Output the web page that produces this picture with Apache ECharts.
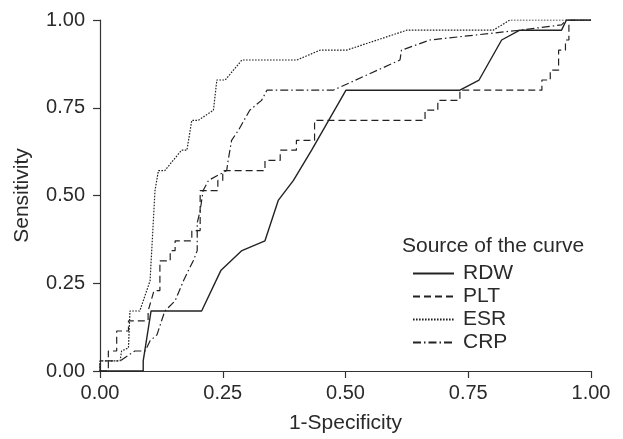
<!DOCTYPE html>
<html>
<head>
<meta charset="utf-8">
<script src="https://cdn.jsdelivr.net/npm/echarts@6/dist/echarts.min.js"></script>
<style>html,body{margin:0;padding:0;background:#fff;}#c{width:623px;height:439px;}</style>
</head>
<body>
<div id="c"></div>
<script>
// 1-Specificity / Sensitivity pairs
var rdwX = [0, 0.088, 0.088, 0.104, 0.207, 0.246, 0.289, 0.336, 0.363, 0.394, 0.431, 0.501, 0.733, 0.772, 0.818, 0.855, 0.940, 0.950, 1];
var rdwY = [0, 0, 0.029, 0.171, 0.171, 0.286, 0.343, 0.371, 0.486, 0.543, 0.629, 0.8, 0.8, 0.829, 0.943, 0.971, 0.971, 1, 1];

var pltX = [0, 0.017, 0.017, 0.034, 0.034, 0.058, 0.058, 0.098, 0.098, 0.11, 0.122, 0.122, 0.143, 0.143, 0.153, 0.153, 0.187, 0.187, 0.204, 0.204, 0.240, 0.240, 0.25, 0.25, 0.336, 0.336, 0.367, 0.367, 0.400, 0.400, 0.437, 0.437, 0.662, 0.662, 0.688, 0.688, 0.733, 0.733, 0.900, 0.900, 0.917, 0.917, 0.934, 0.934, 0.948, 0.948, 0.955, 0.955, 1];
var pltY = [0, 0, 0.057, 0.057, 0.114, 0.114, 0.143, 0.143, 0.171, 0.229, 0.229, 0.314, 0.314, 0.343, 0.343, 0.371, 0.371, 0.400, 0.400, 0.514, 0.514, 0.543, 0.543, 0.571, 0.571, 0.600, 0.600, 0.629, 0.629, 0.657, 0.657, 0.714, 0.714, 0.743, 0.743, 0.771, 0.771, 0.800, 0.800, 0.829, 0.829, 0.857, 0.857, 0.914, 0.914, 0.943, 0.943, 1, 1];

var esrX = [0, 0, 0.041, 0.044, 0.058, 0.061, 0.081, 0.102, 0.112, 0.119, 0.132, 0.166, 0.177, 0.187, 0.200, 0.231, 0.238, 0.255, 0.289, 0.401, 0.448, 0.502, 0.625, 0.801, 0.835, 1];
var esrY = [0, 0.029, 0.029, 0.057, 0.066, 0.171, 0.171, 0.257, 0.514, 0.571, 0.571, 0.629, 0.629, 0.714, 0.714, 0.743, 0.829, 0.829, 0.886, 0.886, 0.914, 0.914, 0.971, 0.971, 1, 1];

var crpX = [0, 0, 0.041, 0.071, 0.092, 0.102, 0.116, 0.132, 0.153, 0.170, 0.180, 0.190, 0.198, 0.198, 0.204, 0.210, 0.221, 0.258, 0.261, 0.268, 0.282, 0.305, 0.329, 0.340, 0.475, 0.611, 0.614, 0.672, 0.855, 0.940, 0.950, 1];
var crpY = [0, 0.029, 0.029, 0.057, 0.057, 0.086, 0.103, 0.171, 0.200, 0.257, 0.286, 0.314, 0.343, 0.422, 0.457, 0.514, 0.543, 0.571, 0.600, 0.657, 0.686, 0.743, 0.771, 0.8, 0.8, 0.886, 0.914, 0.943, 0.971, 0.986, 1, 1];

var seriesNames = ['RDW', 'PLT', 'ESR', 'CRP'];
var xTicks = ['0.00', '0.25', '0.50', '0.75', '1.00'];
var legendTitle = 'Source of the curve';

function pairs(xs, ys) { return xs.map(function (x, i) { return [x, ys[i]]; }); }

var FONT = '"Liberation Sans", Arial, Helvetica, sans-serif';
var TXT = '#2a2a2a';

var chart = echarts.init(document.getElementById('c'), null, {renderer: 'canvas'});
var styles = [
  {type: 'solid', width: 1.4},
  {type: [7, 4], width: 1.2},
  {type: [1.6, 1.4], width: 1.2},
  {type: [8, 3, 1.5, 3], width: 1.2}
];
var datas = [pairs(rdwX, rdwY), pairs(pltX, pltY), pairs(esrX, esrY), pairs(crpX, crpY)];

chart.setOption({
  animation: false,
  backgroundColor: '#fff',
  title: {
    text: legendTitle, left: 397, top: 231,
    textStyle: {fontFamily: FONT, fontSize: 21, fontWeight: 'normal', color: TXT}
  },
  legend: {
    orient: 'vertical', left: 407, top: 258,
    itemWidth: 41, itemHeight: 14, itemGap: 2,
    data: seriesNames,
    itemStyle: {color: 'transparent', borderWidth: 0, opacity: 0},
    textStyle: {fontFamily: FONT, fontSize: 21, color: TXT, lineHeight: 21, padding: [0, 0, 0, 4]}
  },
  grid: {left: 100, right: 32, top: 20, bottom: 68, containLabel: false},
  xAxis: {
    type: 'value', min: 0, max: 1, interval: 0.25,
    name: '1-Specificity', nameLocation: 'middle', nameGap: 42,
    nameTextStyle: {fontFamily: FONT, fontSize: 21, color: TXT},
    axisLine: {show: true, lineStyle: {color: '#333', width: 1.2}},
    axisTick: {show: true, length: 7, lineStyle: {color: '#333', width: 1.2}},
    axisLabel: {fontFamily: FONT, fontSize: 20, color: TXT, margin: 12,
      formatter: function (v) { return xTicks[Math.round(v / 0.25)]; }},
    splitLine: {show: false}
  },
  yAxis: {
    type: 'value', min: 0, max: 1, interval: 0.25,
    name: 'Sensitivity', nameLocation: 'middle', nameGap: 67, nameRotate: 90,
    nameTextStyle: {fontFamily: FONT, fontSize: 21, color: TXT},
    axisLine: {show: true, lineStyle: {color: '#333', width: 1.2}},
    axisTick: {show: true, length: 7, lineStyle: {color: '#333', width: 1.2}},
    axisLabel: {fontFamily: FONT, fontSize: 20, color: TXT, margin: 15,
      formatter: function (v) { return v.toFixed(2); }},
    splitLine: {show: false}
  },
  series: seriesNames.map(function (n, i) {
    return {
      name: n, type: 'line', data: datas[i], symbol: 'none',
      lineStyle: {color: '#222', type: styles[i].type, width: styles[i].width},
      itemStyle: {color: '#222'},
      z: 2
    };
  })
});
</script>
</body>
</html>
